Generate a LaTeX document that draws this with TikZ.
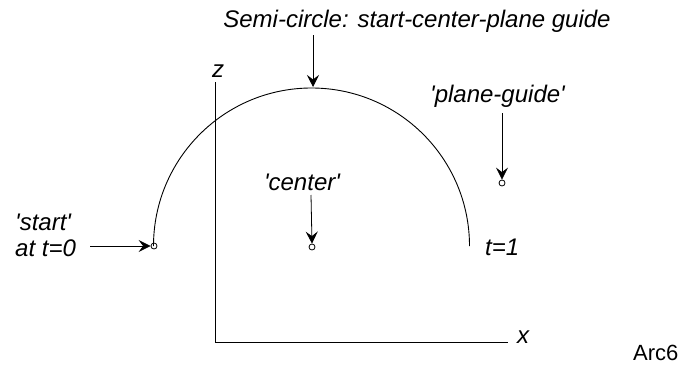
\documentclass[tikz,border=0pt]{standalone}
\usepackage{fontspec}
\setmainfont{Liberation Sans}[Ligatures=TeXOff]
\usetikzlibrary{arrows.meta}
\begin{document}
\begin{tikzpicture}[x=1pt,y=1pt,
  lbl/.style={font=\fontsize{24}{27}\selectfont\itshape, inner sep=0pt},
  dot/.style={draw, circle, line width=0.8pt, minimum size=6pt, inner sep=0pt},
  ptr/.style={line width=0.8pt, -{Stealth[length=12pt,width=12pt,inset=4.5pt]}},
  axis/.style={line width=0.8pt},
  curve/.style={line width=0.9pt}]
\useasboundingbox (0,0) rectangle (682,368);
% axes
\coordinate (o) at (215,26);
\coordinate (ztop) at (215,286);
\coordinate (xend) at (508,26);
\draw[axis] (ztop) -- (o) -- (xend);
\node[lbl, anchor=base] (zl) at (218,291) {z};
\node[lbl, anchor=base west] (xl) at (517,25) {x};
\node[font=\fontsize{22}{26}\selectfont, inner sep=0pt, anchor=base west] (arc) at (633,8) {Arc6};
% semicircle
\draw[curve] (153.5,122) arc[start angle=180, end angle=0, radius=158];
% markers
\node[dot] (ps) at (154,122) {};
\node[dot] (pc) at (312,121) {};
\node[dot] (pg) at (502,185) {};
% labels
\node[lbl, anchor=base] (top) at (417,341) {Semi-circle: start-center-plane guide};
\node[lbl, anchor=base] (cl) at (302,178) {'center'};
\node[lbl, anchor=base west] (gl) at (430,266) {'plane-guide'};
\node[lbl, anchor=base west] (sl) at (15,138) {'start'};
\node[lbl, anchor=base west] (sl2) at (15,112) {at t=0};
\node[lbl, anchor=base west] (tl) at (485,113) {t=1};
% arrows
\coordinate (ta) at (313,333);
\coordinate (tb) at (313,281);
\draw[ptr] (ta) -- (tb);
\coordinate (ca) at (311,173);
\draw[ptr] (ca) -- (pc.north);
\coordinate (ga) at (502,255);
\draw[ptr] (ga) -- (pg.north);
\coordinate (sa) at (90,122);
\draw[ptr] (sa) -- (ps.west);
\end{tikzpicture}
\end{document}
